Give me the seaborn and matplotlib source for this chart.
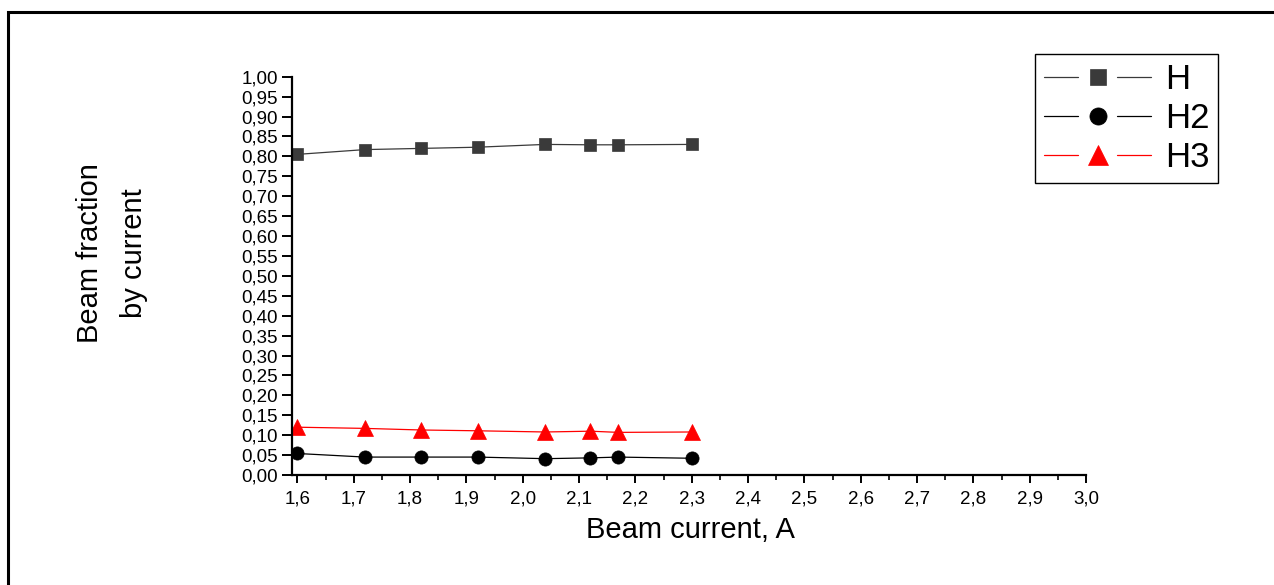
import matplotlib
matplotlib.use("Agg")
import matplotlib.pyplot as plt
import seaborn as sns
import pandas as pd
import numpy as np
from matplotlib.ticker import FixedLocator, MultipleLocator, FuncFormatter
from matplotlib.patches import Rectangle
from matplotlib.lines import Line2D
from matplotlib.legend_handler import HandlerBase

# ---- data ----
beam_current = [1.60, 1.72, 1.82, 1.92, 2.04, 2.12, 2.17, 2.30]
frac_H = [0.805, 0.817, 0.820, 0.823, 0.830, 0.829, 0.829, 0.830]
frac_H2 = [0.054, 0.045, 0.045, 0.045, 0.041, 0.043, 0.045, 0.042]
frac_H3 = [0.120, 0.117, 0.113, 0.111, 0.108, 0.110, 0.107, 0.108]
series_names = ["H", "H2", "H3"]
x_ticks = [1.6, 1.7, 1.8, 1.9, 2.0, 2.1, 2.2, 2.3, 2.4, 2.5, 2.6, 2.7, 2.8, 2.9, 3.0]
y_ticks = [round(0.05 * i, 2) for i in range(21)]

sns.set_style("ticks")
plt.rcParams["font.family"] = ["Liberation Sans", "DejaVu Sans"]
plt.rcParams["text.color"] = "black"
plt.rcParams["axes.labelcolor"] = "black"
plt.rcParams["xtick.color"] = "black"
plt.rcParams["ytick.color"] = "black"


class SplitLineHandler(HandlerBase):
    """Legend handle drawn as: line — gap — marker — gap — line."""
    def create_artists(self, legend, orig_handle, xdescent, ydescent, width,
                       height, fontsize, trans):
        y = height / 2 - ydescent
        x0 = -xdescent
        x1 = -xdescent + width
        xm = -xdescent + width / 2
        gap = 0.18 * width
        l1 = Line2D([x0, xm - gap], [y, y])
        l2 = Line2D([xm + gap, x1], [y, y])
        m = Line2D([xm], [y])
        for a in (l1, l2, m):
            self.update_prop(a, orig_handle, legend)
            a.set_transform(trans)
        l1.set_marker("None")
        l2.set_marker("None")
        m.set_linestyle("None")
        m.set_markersize(orig_handle.get_markersize() * 1.3)
        return [l1, l2, m]


W, H = 1274, 585
fig = plt.figure(figsize=(W / 100, H / 100), dpi=100)
ax = fig.add_axes([292 / W, 1 - 475 / H, (1086 - 292) / W, (475 - 76.7) / H])

styles = [
    dict(color="#3a3a3a", marker="s", markersize=9, mfc="#3a3a3a", mec="#3a3a3a"),
    dict(color="black", marker="o", markersize=9.5, mfc="black", mec="black"),
    dict(color="red", marker="^", markersize=11, mfc="red", mec="red"),
]
for name, vals, st in zip(series_names, [frac_H, frac_H2, frac_H3], styles):
    df = pd.DataFrame({"x": beam_current, "y": vals})
    sns.lineplot(data=df, x="x", y="y", ax=ax, label=name, linewidth=0.9,
                 markeredgewidth=0.5, sort=False, **st)

ax.set_xlim(1.5904, 3.0)
ax.set_ylim(0, 1.0)
ax.xaxis.set_major_locator(FixedLocator(x_ticks))
ax.xaxis.set_minor_locator(MultipleLocator(0.05))
ax.yaxis.set_major_locator(FixedLocator(y_ticks))
ax.xaxis.set_major_formatter(FuncFormatter(lambda v, p: f"{v:.1f}".replace(".", ",")))
ax.yaxis.set_major_formatter(FuncFormatter(lambda v, p: f"{v:.2f}".replace(".", ",")))

for s in ["top", "right"]:
    ax.spines[s].set_visible(False)
for s in ["left", "bottom"]:
    ax.spines[s].set_linewidth(1.6)
    ax.spines[s].set_color("black")

ax.tick_params(axis="y", which="major", direction="out", length=7, width=1.4,
               labelsize=13.5, pad=3, colors="black")
ax.tick_params(axis="x", which="major", direction="out", length=6, width=1.4,
               labelsize=13.5, pad=5, colors="black")
ax.tick_params(axis="x", which="minor", direction="out", length=3.5, width=1.2)

ax.set_xlabel("")
ax.set_ylabel("")
fig.text(690 / W, 1 - 530 / H, "Beam current, A", ha="center", va="center", fontsize=21)
fig.text(112 / W, 1 - 253 / H, "Beam fraction\nby current", ha="center", va="center",
         rotation=90, fontsize=21, linespacing=1.7, multialignment="center")

handles, labels = ax.get_legend_handles_labels()
leg = ax.legend(handles, labels, loc="upper left", bbox_to_anchor=(1035 / W, 1 - 54 / H),
                bbox_transform=fig.transFigure, fontsize=25, frameon=True,
                fancybox=False, handlelength=3.1, handletextpad=0.4,
                labelspacing=0.18, borderpad=0.25, borderaxespad=0,
                handler_map={Line2D: SplitLineHandler()})
leg.get_frame().set_edgecolor("black")
leg.get_frame().set_linewidth(1.0)
leg.get_frame().set_alpha(1)

# outer frame of the figure
fig.patches.append(Rectangle((7.5 / W, -0.1), 1.2, 1.1 - 12 / H, transform=fig.transFigure,
                             fill=False, edgecolor="black", linewidth=2.2, figure=fig))

fig.savefig("out.png", dpi=100)
